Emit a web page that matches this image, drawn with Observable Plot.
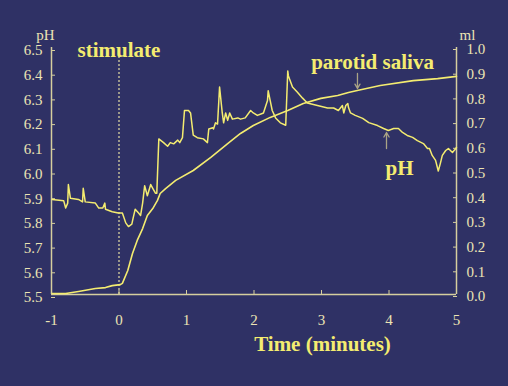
<!DOCTYPE html>
<html><head><meta charset="utf-8">
<script src="https://cdn.jsdelivr.net/npm/d3@7"></script>
<script src="https://cdn.jsdelivr.net/npm/@observablehq/plot@0.6"></script>
<style>
html,body{margin:0;padding:0;background:#2f3165;width:508px;height:386px;overflow:hidden}
#chart svg{display:block}
</style></head><body><div id="chart"></div>
<script>
// pH trace (time in minutes, pH)
const phTime = [-0.99,-0.82,-0.79,-0.76,-0.75,-0.72,-0.60,-0.54,-0.53,-0.50,-0.35,-0.30,-0.24,-0.21,-0.20,-0.10,-0.01,0.05,0.10,0.14,0.19,0.21,0.24,0.29,0.32,0.35,0.38,0.42,0.47,0.50,0.54,0.56,0.59,0.66,0.72,0.76,0.81,0.87,0.90,0.94,0.97,1.03,1.06,1.10,1.16,1.25,1.31,1.33,1.39,1.40,1.43,1.46,1.49,1.53,1.55,1.58,1.61,1.64,1.68,1.76,1.80,1.87,1.95,1.99,2.05,2.14,2.20,2.21,2.24,2.27,2.32,2.39,2.47,2.50,2.51,2.57,2.64,2.72,2.79,2.94,3.09,3.18,3.25,3.31,3.33,3.36,3.39,3.40,3.43,3.50,3.61,3.70,3.83,3.92,3.99,4.07,4.14,4.20,4.27,4.35,4.42,4.51,4.57,4.60,4.64,4.69,4.73,4.76,4.79,4.84,4.88,4.94,4.99,5.00];
const phValue = [5.885,5.88,5.85,5.87,5.945,5.89,5.885,5.875,5.93,5.875,5.87,5.85,5.85,5.87,5.845,5.835,5.83,5.83,5.79,5.775,5.785,5.81,5.845,5.83,5.82,5.87,5.94,5.90,5.945,5.93,5.91,5.91,6.13,6.115,6.10,6.115,6.11,6.125,6.115,6.135,6.245,6.245,6.235,6.145,6.135,6.13,6.115,6.17,6.175,6.17,6.195,6.19,6.34,6.235,6.195,6.235,6.205,6.235,6.21,6.215,6.21,6.215,6.245,6.235,6.225,6.235,6.285,6.325,6.285,6.245,6.215,6.195,6.185,6.405,6.385,6.34,6.32,6.295,6.275,6.265,6.255,6.255,6.245,6.265,6.235,6.265,6.273,6.257,6.235,6.225,6.213,6.196,6.184,6.172,6.164,6.172,6.172,6.156,6.144,6.136,6.123,6.111,6.091,6.091,6.063,6.043,6.00,6.03,6.063,6.083,6.091,6.075,6.091,6.095];
// parotid saliva volume (time in minutes, ml)
const salivaTime = [-0.99,-0.79,-0.60,-0.35,-0.20,-0.10,0.02,0.05,0.13,0.20,0.27,0.35,0.42,0.50,0.57,0.61,0.69,0.84,1.10,1.36,1.61,1.80,1.99,2.24,2.50,2.73,2.99,3.24,3.40,3.53,3.87,4.36,4.72,5.00];
const salivaMl = [0.004,0.004,0.012,0.024,0.028,0.036,0.040,0.045,0.097,0.166,0.219,0.267,0.320,0.348,0.381,0.409,0.429,0.462,0.502,0.555,0.611,0.652,0.684,0.717,0.745,0.773,0.794,0.806,0.818,0.826,0.846,0.866,0.874,0.883];
const xTicks = [-1,0,1,2,3,4,5];
const phTicks = [5.5,5.6,5.7,5.8,5.9,6.0,6.1,6.2,6.3,6.4,6.5];
const mlTicks = [0.0,0.1,0.2,0.3,0.4,0.5,0.6,0.7,0.8,0.9,1.0];
const labels = {stimulate: "stimulate", saliva: "parotid saliva", ph: "pH", xTitle: "Time (minutes)", leftUnit: "pH", rightUnit: "ml"};

const phData = phTime.map((t, i) => ({t, v: phValue[i]}));
// the ml axis shares the pixel scale: 0 ml ↔ pH 5.5, 1 ml ↔ pH 6.5
const salData = salivaTime.map((t, i) => ({t, v: 5.5 + salivaMl[i]}));
const mlAsY = mlTicks.map(m => 5.5 + m);

const ink = "#f4ec70", axisInk = "#d6cf9e", labelInk = "#ece4b4", arrowInk = "#aaa486";
const serif = "Liberation Serif";

const chart = Plot.plot({
  width: 508, height: 386,
  marginLeft: 51, marginRight: 52, marginTop: 47, marginBottom: 92,
  style: {background: "transparent", fontFamily: serif, fontSize: "15px", color: labelInk},
  x: {domain: [-1, 5], label: null},
  y: {domain: [5.5, 6.5], label: null},
  marks: [
    Plot.ruleX([0], {y1: 5.5, y2: 6.468, stroke: axisInk, strokeDasharray: "2,2", strokeWidth: 1.3}),
    Plot.ruleY([5.5], {stroke: axisInk, strokeWidth: 1.5}),
    Plot.ruleX([-1], {stroke: axisInk, strokeWidth: 1.5}),
    Plot.ruleX([5], {stroke: axisInk, strokeWidth: 1.5}),
    Plot.axisX({ticks: xTicks, tickSize: -4, tickPadding: 24, color: labelInk, stroke: axisInk, fontSize: 15, fontFamily: serif, tickFormat: d => String(d), label: null}),
    Plot.axisY({anchor: "left", ticks: phTicks, tickSize: -4, tickPadding: 13, dy: 3, color: labelInk, stroke: axisInk, fontSize: 15, fontFamily: serif, tickFormat: d => d.toFixed(1), label: null}),
    Plot.axisY({anchor: "right", ticks: mlAsY, tickSize: -4, tickPadding: 14, dy: 2, color: labelInk, stroke: axisInk, fontSize: 15, fontFamily: serif, tickFormat: d => (d - 5.5).toFixed(1), label: null}),
    Plot.line(salData, {x: "t", y: "v", stroke: ink, strokeWidth: 1.6}),
    Plot.line(phData, {x: "t", y: "v", stroke: ink, strokeWidth: 1.5}),
    Plot.arrow([0], {x1: 3.533, y1: 6.395, x2: 3.533, y2: 6.334, stroke: arrowInk, strokeWidth: 1.3, headLength: 6}),
    Plot.arrow([0], {x1: 3.963, y1: 6.091, x2: 3.963, y2: 6.156, stroke: arrowInk, strokeWidth: 1.3, headLength: 6}),
    Plot.text([labels.stimulate], {x: 0, y: 6.49, text: d => d, fontSize: 21, fontWeight: "bold", fontFamily: serif, fill: ink}),
    Plot.text([labels.saliva], {x: 3.756, y: 6.44, text: d => d, fontSize: 21, fontWeight: "bold", fontFamily: serif, fill: ink}),
    Plot.text([labels.ph], {x: 4.156, y: 6.012, text: d => d, fontSize: 21, fontWeight: "bold", fontFamily: serif, fill: ink}),
    Plot.text([labels.xTitle], {x: 3.015, frameAnchor: "bottom", dy: 56, text: d => d, fontSize: 21, fontWeight: "bold", fontFamily: serif, fill: ink}),
    Plot.text([labels.leftUnit], {x: -1, frameAnchor: "top", dx: -6, dy: -18, text: d => d, fontSize: 15, fontFamily: serif, fill: labelInk}),
    Plot.text([labels.rightUnit], {x: 5, frameAnchor: "top", dx: 11, dy: -18, text: d => d, fontSize: 15, fontFamily: serif, fill: labelInk})
  ]
});
document.getElementById("chart").appendChild(chart);
</script>
</body></html>
